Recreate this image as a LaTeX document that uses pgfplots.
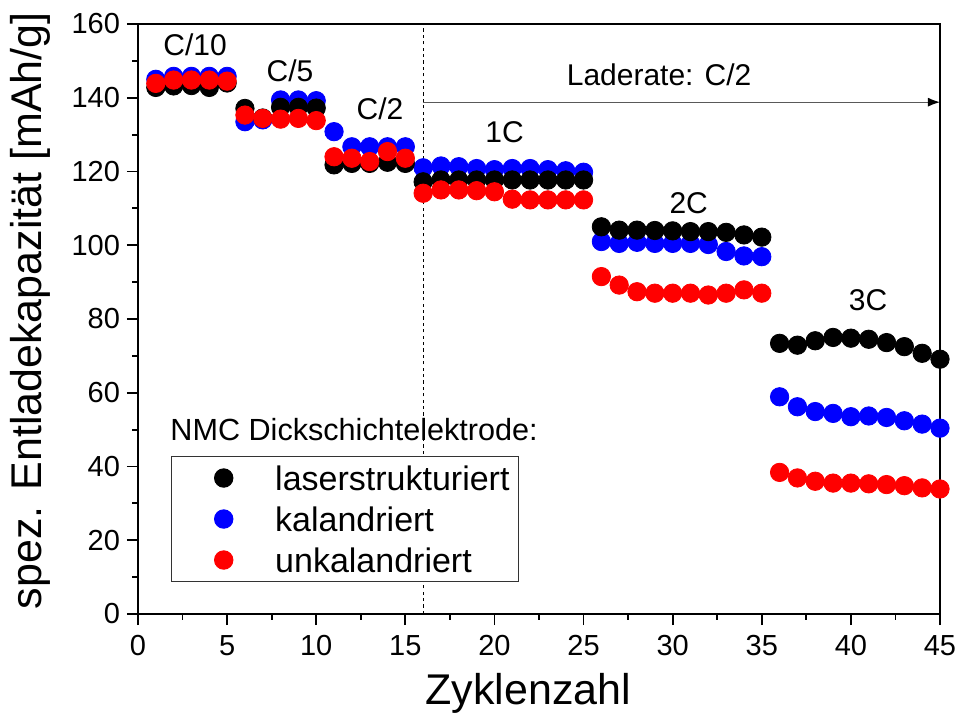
\documentclass[border=0pt]{standalone}
\usepackage{fontspec}
\setmainfont{Liberation Sans}
\usepackage{pgfplots}
\pgfplotsset{compat=1.18}
\usetikzlibrary{arrows.meta}
\begin{document}
\begin{tikzpicture}
\begin{axis}[
  at={(0,0)}, anchor=south west,
  scale only axis, width=401pt, height=295pt,
  xmin=0, xmax=45, ymin=0, ymax=160,
  xtick={0,5,...,45}, ytick={0,20,...,160},
  minor x tick num=1, minor y tick num=1,
  tick align=outside, tick pos=left,
  major tick length=5.5pt, minor tick length=2.75pt,
  axis line style={line width=1pt},
  tick style={line width=0.9pt, black},
  axis on top, clip=false,
  /pgf/number format/assume math mode=true,
  tick label style={font=\fontsize{14.5}{17}\selectfont},
  xticklabel style={yshift=-1.5pt},
  xlabel={Zyklenzahl},
  ylabel={spez. Entladekapazität [mAh/g]},
  every axis x label/.style={at={(axis description cs:0.4867,-0.154)}, anchor=base, font=\fontsize{21.5}{25}\selectfont},
  every axis y label/.style={at={(axis description cs:-0.1347,0.514)}, anchor=center, rotate=90, font=\fontsize{21.5}{25}\selectfont},
  legend style={at={(rel axis cs:0.0408,0.0547)}, anchor=south west,
    draw=black!80, line width=0.5pt, inner xsep=4.5pt, inner ysep=4.35pt,
    row sep=8pt, font=\fontsize{17}{20}\selectfont,
    nodes={inner sep=0pt, text height=12.5pt, text depth=0pt}},
  legend cell align=left,
  legend image code/.code={\path (0pt,0pt) (47pt,0pt); \draw[#1] plot coordinates {(21.5pt,0pt)};},
  mark size=4.6pt,
]
\addlegendimage{only marks, mark=*, color=black, mark options={draw=none, fill=black}}
\addlegendentry{laserstrukturiert}
\addlegendimage{only marks, mark=*, color=blue, mark options={draw=none, fill=blue}}
\addlegendentry{kalandriert}
\addlegendimage{only marks, mark=*, color=red, mark options={draw=none, fill=red}}
\addlegendentry{unkalandriert}

\draw[dashed, dash pattern=on 1.6pt off 1.6pt, line width=0.45pt] (axis cs:16,0) -- (axis cs:16,160);
\draw[gray!70!black, line width=0.6pt, -{Latex[length=6pt,width=4.5pt,black]}] (axis cs:16,138.8) -- (axis cs:45,138.8);

% kalandriert
\addplot[only marks, mark=*, color=blue, mark options={draw=none, fill=blue}, forget plot] coordinates {
(1,145.0)(2,145.8)(3,145.8)(4,145.8)(5,145.8)
(6,133.5)(7,134.0)(8,139.4)(9,139.4)(10,139.2)
(11,130.8)(12,126.7)(13,126.7)(14,126.7)(15,126.7)
(16,121.0)(17,121.5)(18,121.3)(19,120.8)(20,120.5)(21,120.8)(22,120.8)(23,120.5)(24,120.2)(25,119.8)
(26,101.0)(27,100.5)(28,100.8)(29,100.5)(30,100.5)(31,100.5)(32,100.2)(33,98.3)(34,97.1)(35,96.9)
(36,58.9)(37,56.2)(38,54.9)(39,54.4)(40,53.5)(41,53.7)(42,53.3)(43,52.4)(44,51.5)(45,50.4)
};
% laserstrukturiert
\addplot[only marks, mark=*, color=black, mark options={draw=none, fill=black}, forget plot] coordinates {
(1,142.8)(2,143.2)(3,143.3)(4,142.8)(5,144.0)
(6,137.1)(7,134.5)(8,137.4)(9,137.4)(10,137.2)
(11,121.8)(12,122.2)(13,122.2)(14,122.5)(15,122.2)
(16,117.2)(17,117.7)(18,117.7)(19,117.7)(20,117.7)(21,117.7)(22,117.7)(23,117.7)(24,117.7)(25,117.7)
(26,105.0)(27,104.1)(28,104.1)(29,104.0)(30,103.9)(31,103.7)(32,103.7)(33,103.5)(34,102.8)(35,102.2)
(36,73.4)(37,72.9)(38,74.1)(39,75.0)(40,74.8)(41,74.5)(42,73.6)(43,72.5)(44,70.7)(45,69.1)
};
% unkalandriert
\addplot[only marks, mark=*, color=red, mark options={draw=none, fill=red}, forget plot] coordinates {
(1,143.9)(2,144.8)(3,144.8)(4,144.8)(5,144.5)
(6,135.3)(7,134.4)(8,134.2)(9,134.4)(10,133.8)
(11,124.0)(12,123.6)(13,122.7)(14,125.4)(15,123.6)
(16,114.1)(17,115.0)(18,115.0)(19,114.8)(20,114.5)(21,112.5)(22,112.3)(23,112.3)(24,112.3)(25,112.3)
(26,91.5)(27,89.2)(28,87.4)(29,87.0)(30,87.0)(31,87.0)(32,86.5)(33,87.0)(34,87.9)(35,87.0)
(36,38.4)(37,36.9)(38,36.0)(39,35.5)(40,35.5)(41,35.3)(42,35.1)(43,34.8)(44,34.2)(45,33.9)
};

\begin{scope}[every node/.style={font=\fontsize{15}{18}\selectfont, inner sep=0pt}]
\node at (axis cs:3.2,154.4) {C/10};
\node at (axis cs:8.53,147.2) {C/5};
\node at (axis cs:13.58,136.9) {C/2};
\node at (axis cs:20.57,130.7) {1C};
\node at (axis cs:30.9,111.5) {2C};
\node at (axis cs:40.97,85.2) {3C};
\node at (axis cs:29.24,146.3) {Laderate: C/2};
\node[anchor=west, font=\fontsize{15.3}{18}\selectfont] at (axis cs:1.8,49.9) {NMC Dickschichtelektrode:};
\end{scope}
\end{axis}
\pgfresetboundingbox
\path[use as bounding box] (-69pt,-49.5pt) rectangle (410.5pt,307pt);
\end{tikzpicture}
\end{document}
